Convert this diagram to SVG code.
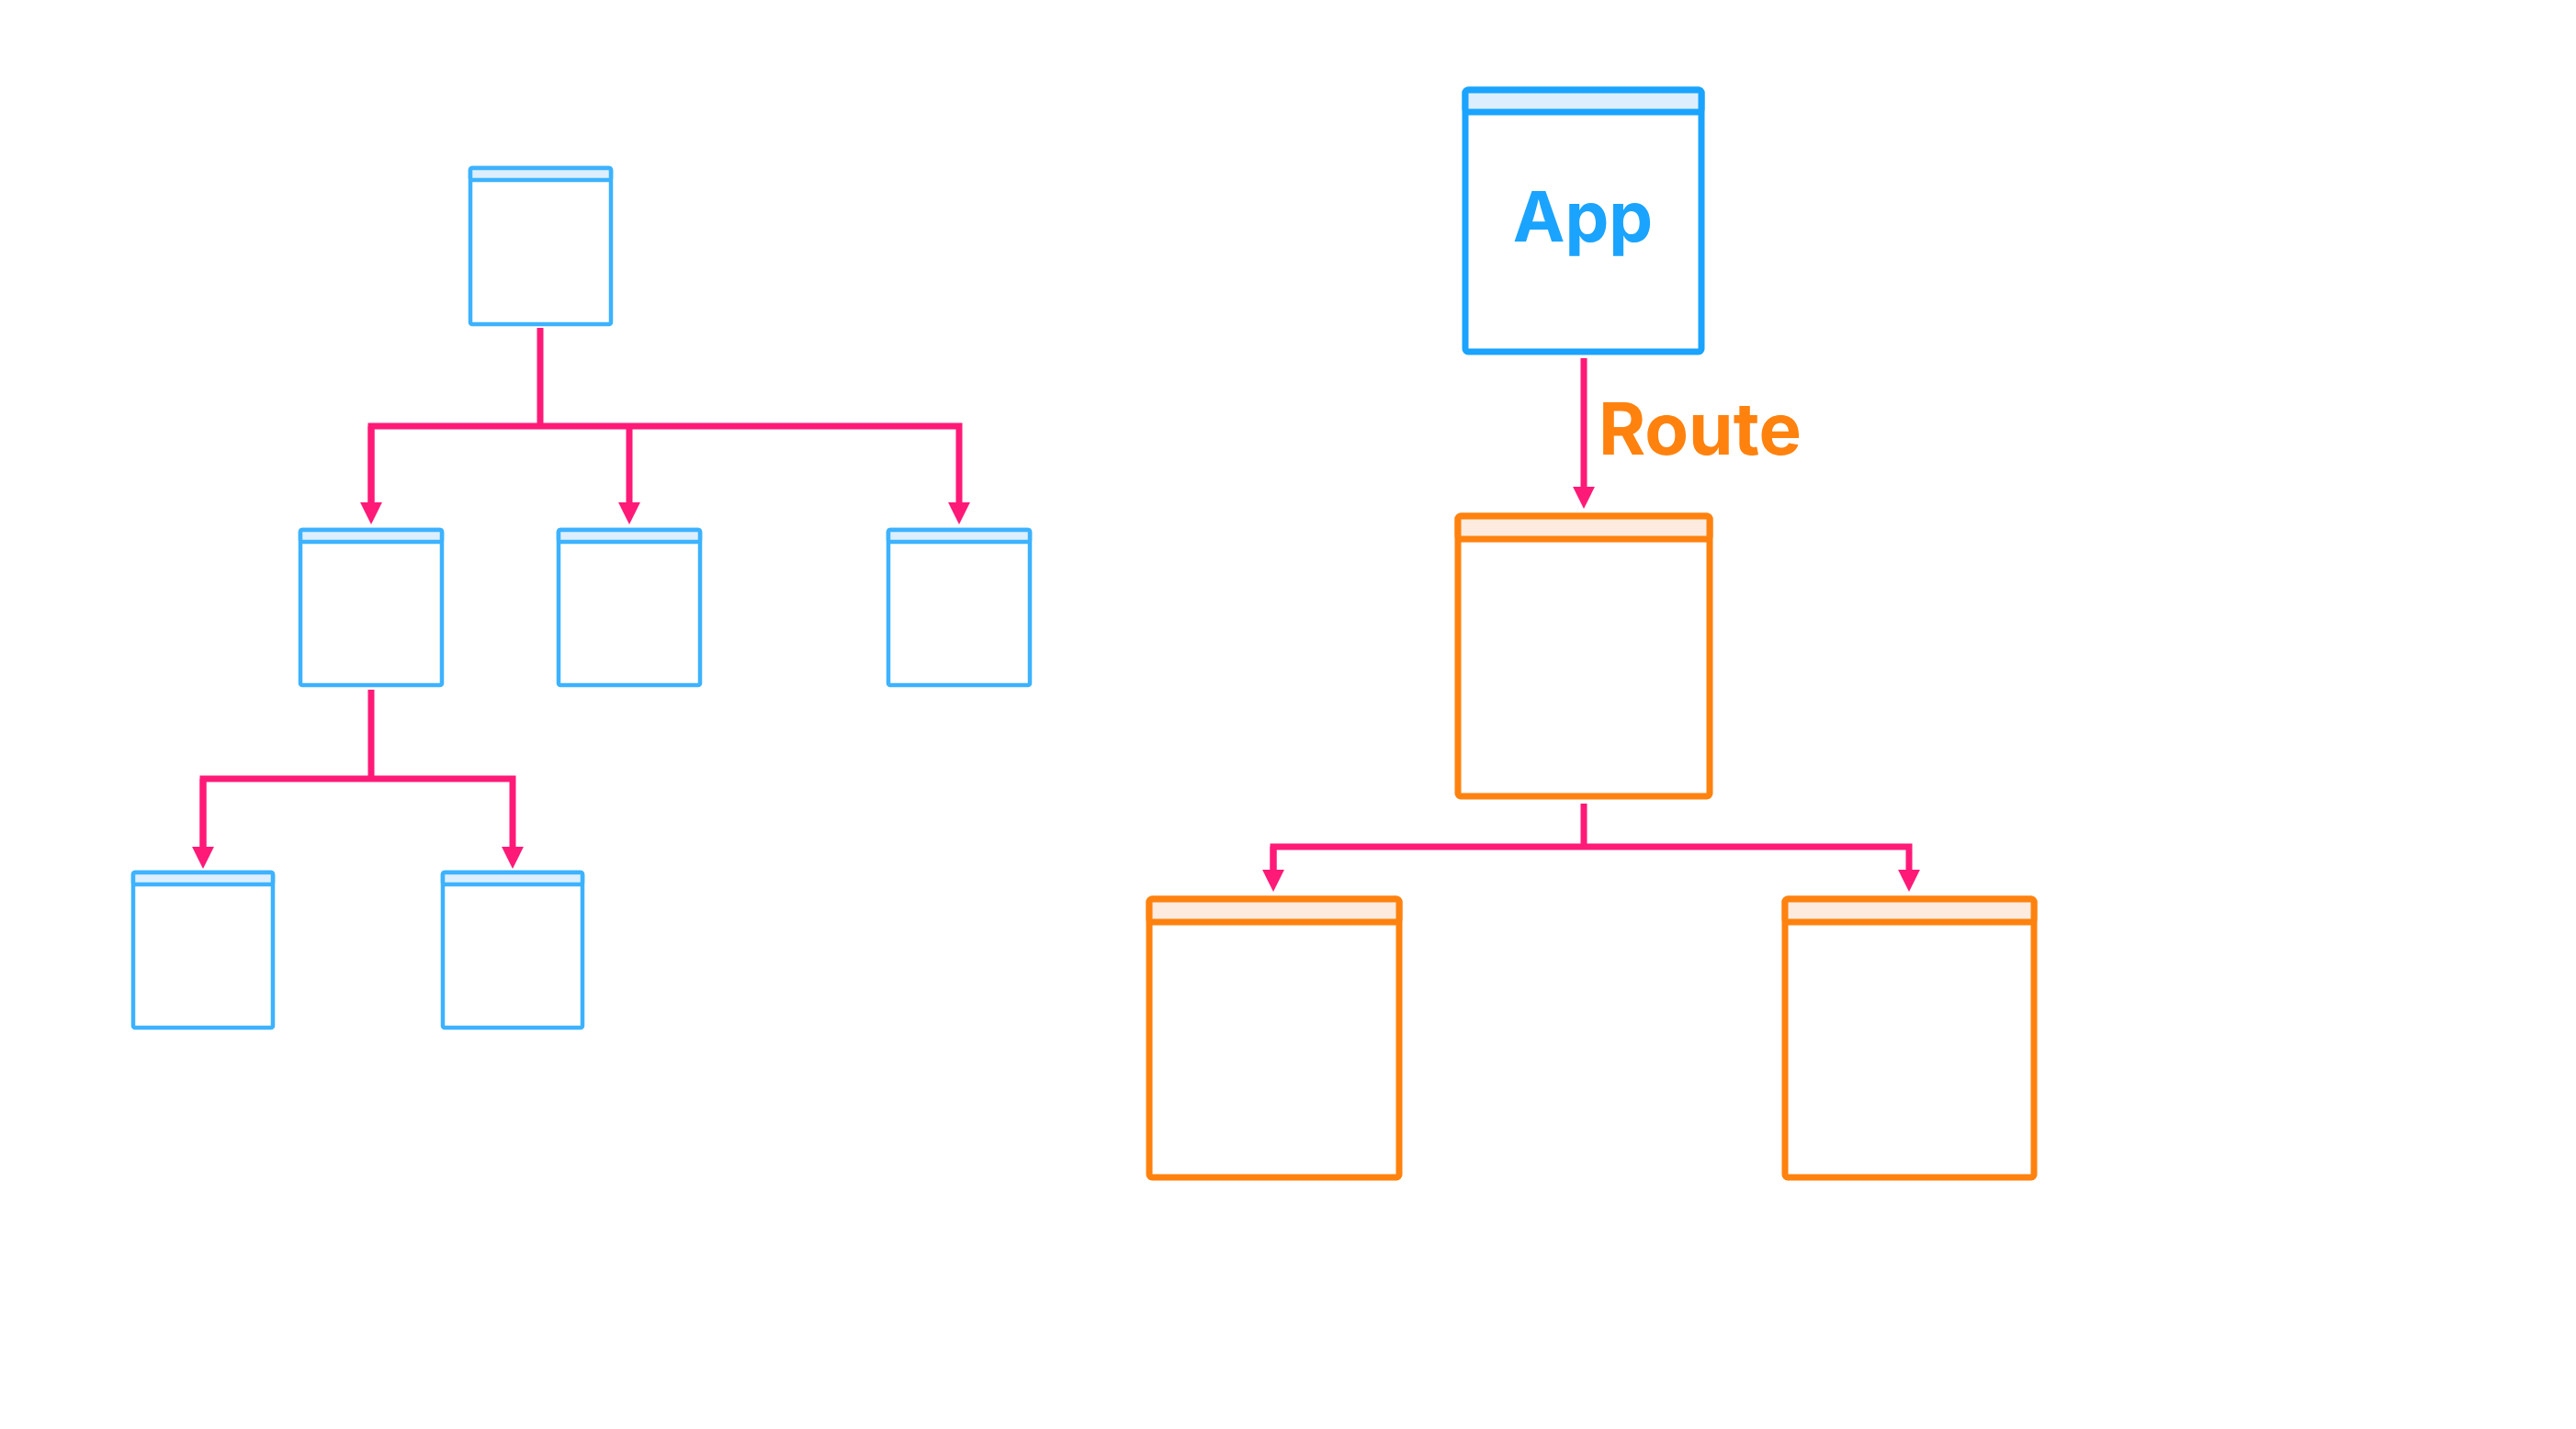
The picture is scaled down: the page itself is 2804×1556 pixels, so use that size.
<svg xmlns="http://www.w3.org/2000/svg" width="2804" height="1556" viewBox="0 0 2804 1556">
<style>
.bg{fill:#ffffff}
.sb{fill:#ffffff;stroke:#3DB2FF;stroke-width:4.5}
.sbh{fill:#DDEFFF;stroke:#3DB2FF;stroke-width:4.5}
.lb{fill:#ffffff;stroke:#1AA4FF;stroke-width:7}
.lbh{fill:#DDEFFF;stroke:#1AA4FF;stroke-width:7}
.lo{fill:#ffffff;stroke:#FF820F;stroke-width:7}
.loh{fill:#FDEBDF;stroke:#FF820F;stroke-width:7}
.conn{fill:none;stroke:#FF1A78;stroke-width:7;stroke-linejoin:miter;stroke-linecap:butt}
.t{font-family:Inter,"Liberation Sans",sans-serif;font-weight:700;font-size:78px}
</style>
<defs>
<marker id="ah" markerUnits="userSpaceOnUse" markerWidth="24" markerHeight="24" refX="12" refY="11" orient="auto" viewBox="0 0 22 22">
<path d="M0,0 L22,11 L0,22 z" fill="#FF1A78"/>
</marker>
</defs>
<rect class="bg" x="0" y="0" width="2804" height="1556"/>

<g id="connectors">
<path class="conn" d="M588,357 V464"/>
<path class="conn" d="M404,560 V464 H1044 V560" marker-end="url(#ah)"/>
<path class="conn" d="M404,464 V560" marker-end="url(#ah)"/>
<path class="conn" d="M685,464 V560" marker-end="url(#ah)"/>
<path class="conn" d="M404,751 V848"/>
<path class="conn" d="M221,935 V848 H558 V935" marker-end="url(#ah)"/>
<path class="conn" d="M221,848 V935" marker-end="url(#ah)"/>
<path class="conn" d="M1724,390 V543" marker-end="url(#ah)"/>
<path class="conn" d="M1724,875 V922"/>
<path class="conn" d="M1386,960 V922 H2078 V960" marker-end="url(#ah)"/>
<path class="conn" d="M1386,922 V960" marker-end="url(#ah)"/>
</g>

<g id="node-root">
<rect class="sb" x="512" y="183" width="153" height="170" rx="2"/>
<rect class="sbh" x="512" y="183" width="153" height="13" rx="2"/>
</g>
<g id="node-a">
<rect class="sb" x="327" y="577" width="154" height="169" rx="2"/>
<rect class="sbh" x="327" y="577" width="154" height="13" rx="2"/>
</g>
<g id="node-b">
<rect class="sb" x="608" y="577" width="154" height="169" rx="2"/>
<rect class="sbh" x="608" y="577" width="154" height="13" rx="2"/>
</g>
<g id="node-c">
<rect class="sb" x="967" y="577" width="154" height="169" rx="2"/>
<rect class="sbh" x="967" y="577" width="154" height="13" rx="2"/>
</g>
<g id="node-d">
<rect class="sb" x="145" y="950" width="152" height="169" rx="2"/>
<rect class="sbh" x="145" y="950" width="152" height="13" rx="2"/>
</g>
<g id="node-e">
<rect class="sb" x="482" y="950" width="152" height="169" rx="2"/>
<rect class="sbh" x="482" y="950" width="152" height="13" rx="2"/>
</g>

<g id="node-app">
<rect class="lb" x="1595" y="98" width="257" height="285" rx="3"/>
<rect class="lbh" x="1595" y="98" width="257" height="24" rx="3"/>
<text class="t" x="1723" y="263" text-anchor="middle" fill="#1AA4FF" style="font-size:76px">App</text>
</g>
<g id="label-route">
<text class="t" x="1740" y="495" fill="#FF820F">Route</text>
</g>
<g id="node-route">
<rect class="lo" x="1587" y="562" width="274" height="305" rx="3"/>
<rect class="loh" x="1587" y="562" width="274" height="25" rx="3"/>
</g>
<g id="node-left">
<rect class="lo" x="1251" y="979" width="272" height="303" rx="3"/>
<rect class="loh" x="1251" y="979" width="272" height="25" rx="3"/>
</g>
<g id="node-right">
<rect class="lo" x="1943" y="979" width="271" height="303" rx="3"/>
<rect class="loh" x="1943" y="979" width="271" height="25" rx="3"/>
</g>
</svg>
